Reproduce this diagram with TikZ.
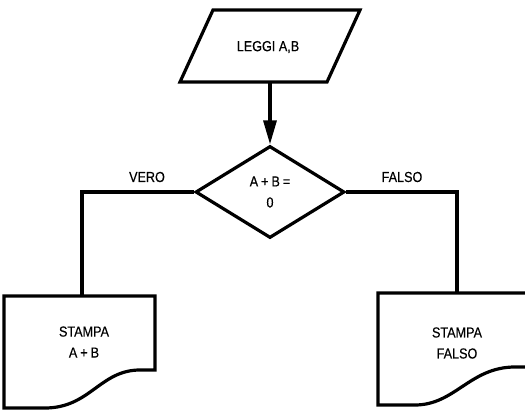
\documentclass[tikz,border=0pt]{standalone}
\usepackage{fontspec}
\setmainfont{Liberation Sans}[FakeStretch=0.87,FakeBold=0.4]
\usetikzlibrary{shapes.geometric,arrows.meta}
\newcommand{\wsp}{\hspace{3pt}}
\begin{document}
\begin{tikzpicture}[x=1pt,y=-1pt,
    line join=miter,
    flow/.style={line width=3.2pt},
    lbl/.style={font=\fontsize{14.5}{16}\selectfont, align=center, inner sep=0pt},
    test/.style={diamond, draw, flow, minimum width=149pt, minimum height=92pt,
                 inner sep=0pt, font=\fontsize{14.5}{16}\selectfont, align=center}]
  \useasboundingbox (0,0) rectangle (525,411);
  \clip (0,0) rectangle (525,411);

  % input: parallelogram
  \draw[flow] (213,10) -- (360,10) -- (327,82) -- (180,82) -- cycle;
  \node[lbl] (read) at (268,47) {LEGGI A,B};
  \coordinate (readout) at (270,82);

  % decision
  \node[test] (test) at (270,192) {A\wsp+\wsp B\wsp=\\[5pt]0};

  % print blocks (document shapes)
  \draw[flow] (155,370) -- (155,296) -- (4,296) -- (4,408) -- (45,408)
      .. controls (90,408) and (100,370) .. (140,370) -- cycle;
  \node[lbl] (outA) at (84,342) {STAMPA\\[5pt]A\wsp+\wsp B};
  \coordinate (outAin) at (82,296);

  \draw[flow] (540,367) -- (515,367) .. controls (470,367) and (455,405) .. (415,405)
      -- (378,405) -- (378,293) -- (540,293);
  \node[lbl] (outB) at (457,343) {STAMPA\\[5pt]FALSO};
  \coordinate (outBin) at (457,293);

  % connectors
  \draw[flow, -{Triangle[length=24pt,width=13pt]}] (readout) -- (test.north);
  \draw[flow] (test.west) -| (outAin);
  \draw[flow] (test.east) -| (outBin);

  % branch labels
  \node[lbl] (vero) at (147,177) {VERO};
  \node[lbl] (falso) at (402,177) {FALSO};
\end{tikzpicture}
\end{document}
